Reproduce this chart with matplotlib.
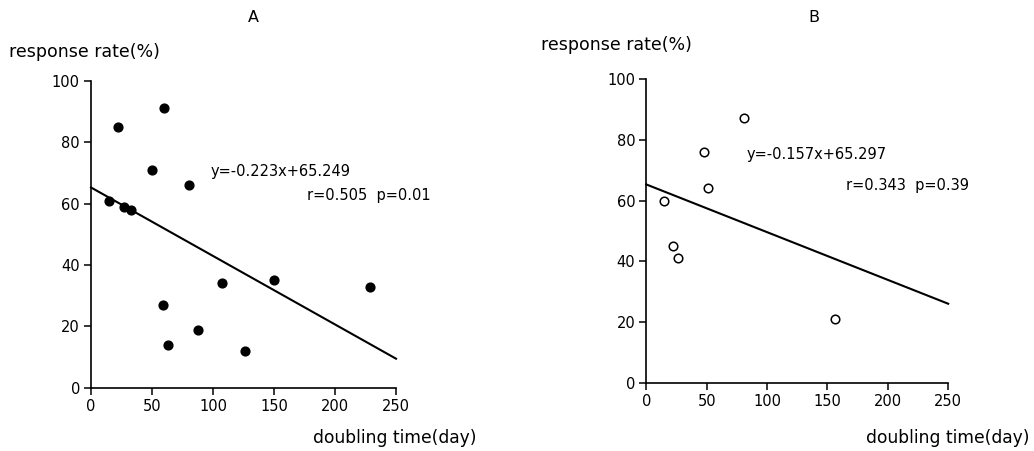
import matplotlib
matplotlib.use("Agg")
from matplotlib import pyplot as plt
import numpy as np

plt.rcParams['font.family'] = ['DejaVu Sans']

# panel A: doubling time (day) vs response rate (%)
a_days = [15, 22, 27, 33, 50, 60, 80, 59, 63, 88, 107, 126, 150, 229]
a_rate = [61, 85, 59, 58, 71, 91, 66, 27, 14, 19, 34, 12, 35, 33]
a_slope, a_icept = -0.223, 65.249
a_eq = "y=-0.223x+65.249"
a_stat = "r=0.505  p=0.01"

# panel B
b_days = [15, 22, 26, 48, 51, 81, 156]
b_rate = [60, 45, 41, 76, 64, 87, 21]
b_slope, b_icept = -0.157, 65.297
b_eq = "y=-0.157x+65.297"
b_stat = "r=0.343  p=0.39"

xticks = [0, 50, 100, 150, 200, 250]
yticks = [0, 20, 40, 60, 80, 100]

fig = plt.figure(figsize=(10.34, 4.51), dpi=100)
axA = fig.add_axes([0.088, 0.140, 0.295, 0.681])
axB = fig.add_axes([0.625, 0.151, 0.292, 0.674])


def setup(ax):
    ax.set_xlim(0, 250)
    ax.set_ylim(0, 100)
    ax.set_xticks(xticks)
    ax.set_yticks(yticks)
    for s in ["top", "right"]:
        ax.spines[s].set_visible(False)
    for s in ["left", "bottom"]:
        ax.spines[s].set_linewidth(1.2)
    ax.tick_params(direction="out", length=5, width=1.1, labelsize=10.5, pad=3)


def fit_line(ax, slope, icept):
    xs = np.array([0, 250])
    ax.plot(xs, slope * xs + icept, color="black", lw=1.5, clip_on=False)


setup(axA)
fit_line(axA, a_slope, a_icept)
axA.scatter(a_days, a_rate, s=40, color="black", zorder=3, clip_on=False)
axA.text(98, 70.4, a_eq, fontsize=10.5, va="center")
axA.text(177, 62.5, a_stat, fontsize=10.5, va="center")

setup(axB)
fit_line(axB, b_slope, b_icept)
axB.scatter(b_days, b_rate, s=38, facecolors="white", edgecolors="black",
            linewidths=1.1, zorder=3, clip_on=False)
axB.text(83, 75, b_eq, fontsize=10.5, va="center")
axB.text(165, 65, b_stat, fontsize=10.5, va="center")

fig.text(253 / 1034, 1 - 18 / 451, "A", fontsize=11.5, ha="center", va="center")
fig.text(814 / 1034, 1 - 18 / 451, "B", fontsize=11.5, ha="center", va="center")
fig.text(9 / 1034, 1 - 52 / 451, "response rate(%)", fontsize=12.5, ha="left", va="center")
fig.text(541 / 1034, 1 - 45 / 451, "response rate(%)", fontsize=12.5, ha="left", va="center")
fig.text(313 / 1034, 1 - 438 / 451, "doubling time(day)", fontsize=12.3, ha="left", va="center")
fig.text(1029 / 1034, 1 - 438 / 451, "doubling time(day)", fontsize=12.3, ha="right", va="center")

fig.savefig("out.png", dpi=100)
